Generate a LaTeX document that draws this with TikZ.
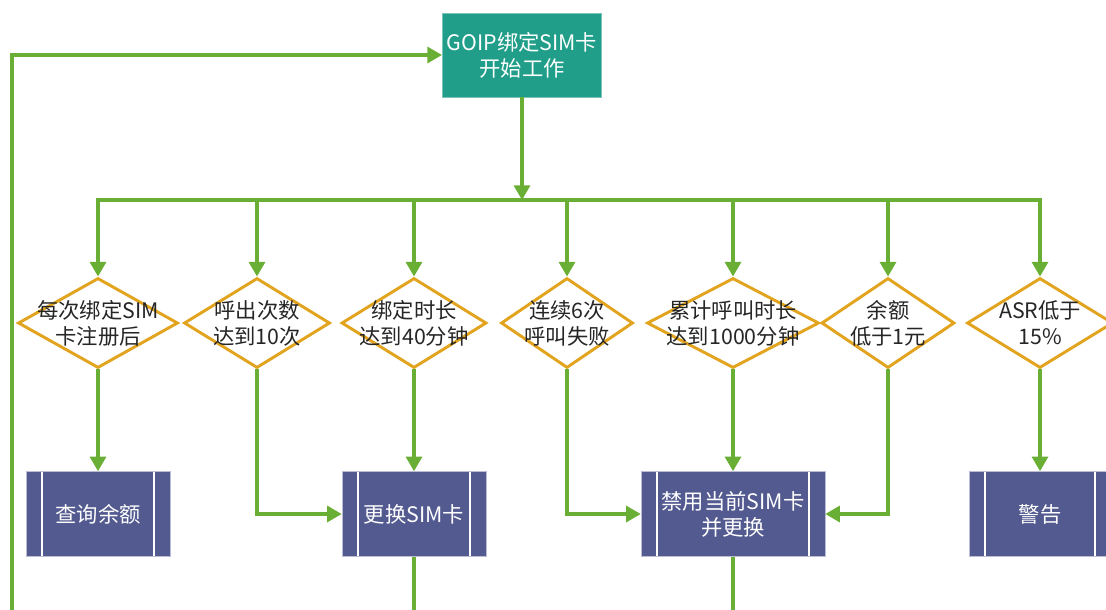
\documentclass[tikz,border=0pt]{standalone}
\usepackage{fontspec}
\setmainfont{Noto Sans CJK SC}
\usepackage{xcolor}
\usepackage{tikz}
\usetikzlibrary{positioning}
\usetikzlibrary{shapes.geometric, arrows.meta}
\definecolor{flowgreen}{HTML}{6AAF35}
\definecolor{startteal}{HTML}{209E89}
\definecolor{askamber}{HTML}{E2A41E}
\definecolor{procblue}{HTML}{535A90}
\tikzstyle{start} = [rectangle, minimum width=118.5pt, minimum height=63pt, align=center, fill=startteal, draw=startteal!60!white, text=white, font=\fontsize{16}{19.5}\selectfont]
\tikzstyle{decision} = [diamond, minimum height=67.5pt, inner sep=0pt, draw=askamber, line width=2.2pt, fill=white]
\tikzstyle{dtext} = [align=center, text=black!85, font=\fontsize{16}{19.5}\selectfont]
\tikzstyle{process} = [rectangle, minimum height=63.75pt, align=center, fill=procblue, draw=procblue!40!white, text=white, font=\fontsize{16}{19.5}\selectfont,
  path picture={\draw[white, line width=1.2pt] ([xshift=12pt]path picture bounding box.north west) -- ([xshift=12pt]path picture bounding box.south west) ([xshift=-12pt]path picture bounding box.north east) -- ([xshift=-12pt]path picture bounding box.south east);}]
\tikzstyle{line} = [line width=2.5pt, draw=flowgreen]
\tikzstyle{arrow} = [line width=2.5pt, draw=flowgreen, -{Triangle[length=11pt,width=12pt]}]

\begin{document}
\begin{tikzpicture}[x=0.75pt, y=-0.75pt, node distance=143.25pt]
    \clip (0,0) rectangle (1106,610);
    \node(start)[start] at (522,55) {GOIP绑定SIM卡\\开始工作};
    % conditions
    \node(d1)[decision, minimum width=120pt, label={[dtext]center:{每次绑定SIM\\卡注册后}}] at (98,323) {};
    \node(d2)[decision, minimum width=109.5pt, label={[dtext]center:{呼出次数\\达到10次}}] at (257,323) {};
    \node(d3)[decision, minimum width=108.75pt, label={[dtext]center:{绑定时长\\达到40分钟}}] at (414,323) {};
    \node(d4)[decision, minimum width=99pt, label={[dtext]center:{连续6次\\呼叫失败}}] at (567,323) {};
    \node(d5)[decision, minimum width=129pt, label={[dtext]center:{累计呼叫时长\\达到1000分钟}}] at (733,323) {};
    \node(d6)[decision, minimum width=99.75pt, label={[dtext]center:{余额\\低于1元}}] at (888,323) {};
    \node(d7)[decision, minimum width=109.5pt, label={[dtext]center:{ASR低于\\15\%}}] at (1040,323) {};
    % actions
    \node(query)[process, minimum width=108pt, below of=d1] {查询余额};
    \node(swap)[process, minimum width=108pt, below of=d3] {更换SIM卡};
    \node(ban)[process, minimum width=138pt, below of=d5] {禁用当前SIM卡\\并更换};
    \node(warn)[process, minimum width=106.5pt, below of=d7] {警告};
    \coordinate(bus) at (522,200);
    \coordinate(back) at (12,640);
    \draw[arrow](start) -- (bus);
    \foreach \d in {d1,d2,d3,d4,d5,d6,d7}
        \draw[arrow](bus) -| (\d.north);
    \draw[arrow](d1) -- (query);
    \draw[arrow](d2) |- (swap);
    \draw[arrow](d3) -- (swap);
    \draw[arrow](d4) |- (ban);
    \draw[arrow](d5) -- (ban);
    \draw[arrow](d6) |- (ban);
    \draw[arrow](d7) -- (warn);
    \draw[line](swap) -- (swap |- back);
    \draw[arrow](ban) |- (back) |- (start);
\end{tikzpicture}
\end{document}
